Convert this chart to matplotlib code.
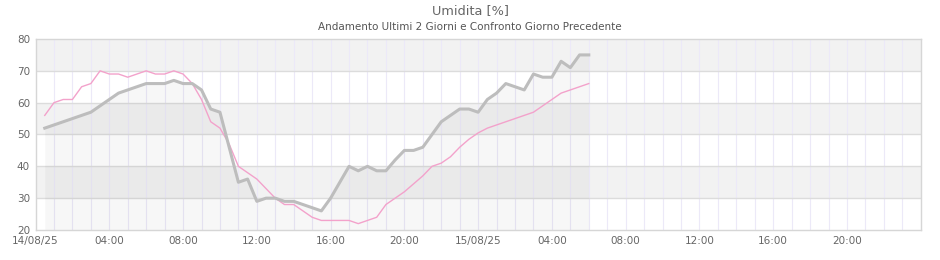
import numpy as np
import pandas as pd
import matplotlib
matplotlib.use('Agg')
import matplotlib.pyplot as plt

# ------------------------------------------------------------------
# Data (30-min samples from 14/08 00:30)
# ------------------------------------------------------------------
times = pd.date_range('2025-08-14 00:30', '2025-08-15 06:00', freq='30min')

umidita = [52, 53, 54, 55, 56, 57, 59, 61, 63, 64, 65, 66, 66, 66, 67, 66,
           66, 64, 58, 57, 46, 35, 36, 29, 30, 30, 29, 29, 28, 27, 26, 30,
           35, 40, 38.6, 40, 38.6, 38.6, 42, 45, 45, 46, 50, 54, 56, 58,
           58, 57, 61, 63, 66, 65, 64, 69, 68, 68, 73, 71, 75, 75]

umidita_prec = [56, 60, 61, 61, 65, 66, 70, 69, 69, 68, 69, 70, 69, 69, 70, 69,
                66, 61, 54, 52, 47, 40, 38, 36, 33, 30, 28, 28, 26, 24, 23, 23,
                23, 23, 22, 23, 24, 28, 30, 32, 34.5, 37, 40, 41, 43, 46,
                48.5, 50.5, 52, 53, 54, 55, 56, 57, 59, 61, 63, 64, 65, 66]

tick_times = pd.date_range('2025-08-14 00:00', '2025-08-15 20:00', freq='4h')
tick_labels = ['14/08/25', '04:00', '08:00', '12:00', '16:00', '20:00',
               '15/08/25', '04:00', '08:00', '12:00', '16:00', '20:00']

x_start = pd.Timestamp('2025-08-14 00:00')
x_end = pd.Timestamp('2025-08-16 00:00')

# ------------------------------------------------------------------
# Plot
# ------------------------------------------------------------------
plt.rcParams['font.family'] = ['DejaVu Sans']
fig = plt.figure(figsize=(9.4, 2.6), dpi=100)
ax = fig.add_axes([0.0378, 0.1154, 0.9417, 0.7346])

# alternating horizontal bands
for lo in (30, 50, 70):
    ax.axhspan(lo, lo + 10, color='#f2f2f2', zorder=0, lw=0)

# hourly vertical grid
for t in pd.date_range(x_start, x_end, freq='1h')[1:-1]:
    ax.axvline(t, color='#ece9f8', lw=0.8, zorder=1)
for v in (30, 40, 50, 60, 70):
    ax.axhline(v, color='#dcdcdc', lw=1.0, zorder=1)

ax.fill_between(times, umidita, 20, color='black', alpha=0.03, lw=0, zorder=2)
ax.plot(times, umidita_prec, color='#f3a2cb', lw=1.0, zorder=3)
ax.plot(times, umidita, color='#bdbdbd', lw=2.2, zorder=4)

ax.set_xlim(x_start, x_end)
ax.set_ylim(20, 80)
ax.set_yticks([20, 30, 40, 50, 60, 70, 80])
ax.set_xticks(tick_times)
ax.set_xticklabels(tick_labels)
ax.tick_params(length=0, labelsize=7.5, labelcolor='#666666', pad=4)
for s in ax.spines.values():
    s.set_color('#d6d6d6')
    s.set_linewidth(1.0)

fig.text(0.5, 0.961, 'Umidita [%]', ha='center', va='center',
         fontsize=9.3, color='#666666')
fig.text(0.5, 0.897, 'Andamento Ultimi 2 Giorni e Confronto Giorno Precedente',
         ha='center', va='center', fontsize=7.5, color='#555555')

fig.savefig('out.png', dpi=100)
